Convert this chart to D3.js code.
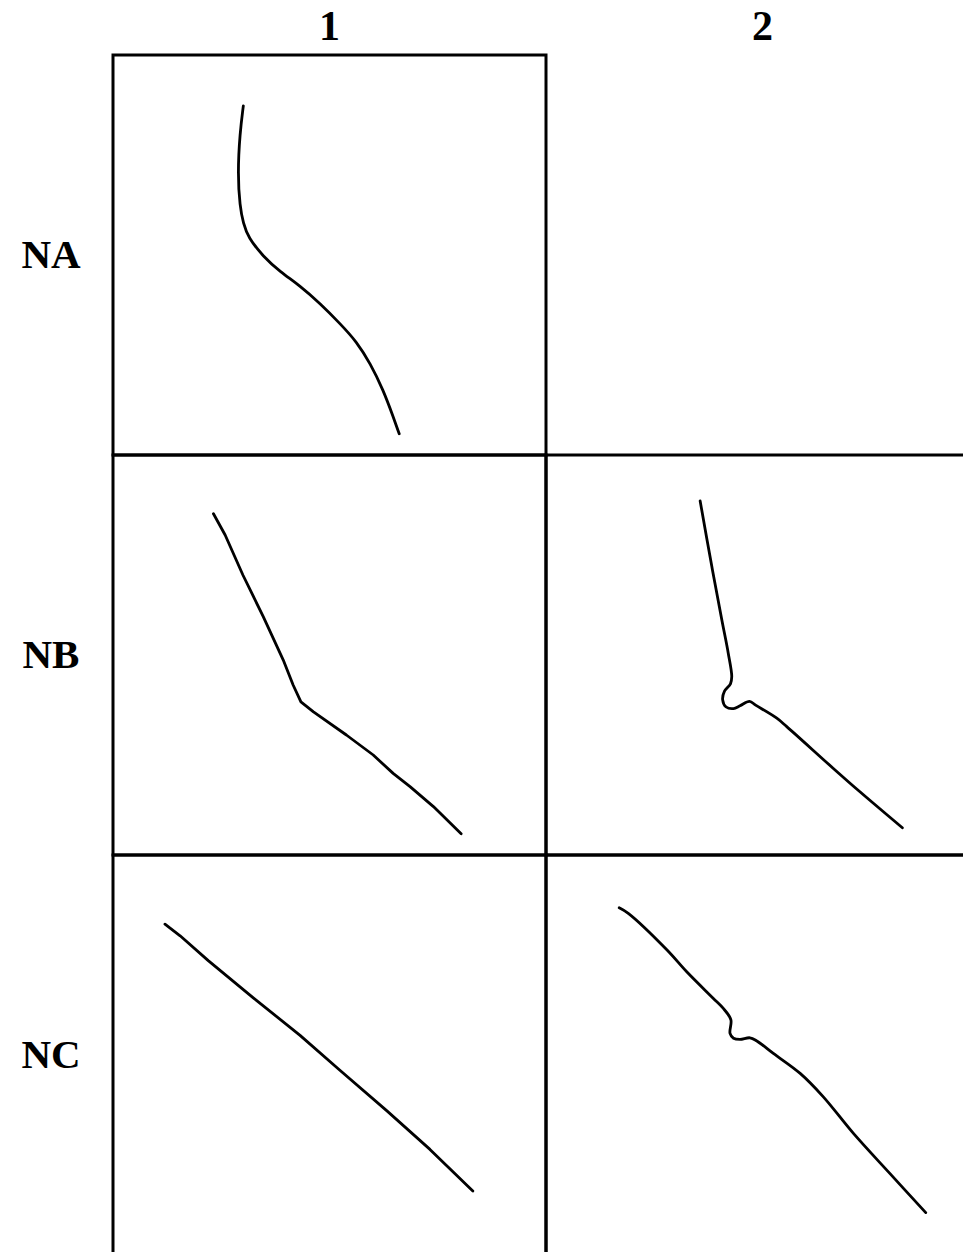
<!DOCTYPE html>
<html>
<head>
<meta charset="utf-8">
<script src="https://cdn.jsdelivr.net/npm/d3@7"></script>
<style>
  body { margin: 0; background: #fff; }
  svg { display: block; }
  .label { font-family: "Liberation Serif", "Times New Roman", serif; font-weight: bold; fill: #000; }
</style>
</head>
<body>
<div id="chart"></div>
<script>
// grid categories
const cols = ["1", "2"];
const rows = ["NA", "NB", "NC"];

// curves per cell, [x, y] in cell units (0-100, y up)
const NA_1 = [[30.1, 87.3], [29.3, 80.4], [28.8, 70.4], [29.3, 62.1], [30.1, 57.9], [31.2, 54.4],
  [34.7, 49.6], [38.6, 45.8], [43.2, 42.3], [47.8, 37.9], [52.4, 32.9], [56.3, 28.3],
  [59.4, 22.9], [62.4, 16.3], [64.7, 9.6], [66.1, 5.3]];
const NB_1 = [[23.2, 85.3], [25.9, 80.0], [30.0, 70.0], [34.7, 59.6], [39.3, 48.8], [41.6, 42.5],
  [43.4, 38.3], [46.3, 35.8], [53.9, 30.0], [60.1, 25.0], [64.7, 20.4], [68.6, 17.1],
  [74.0, 12.1], [80.4, 5.3]];
const NB_2 = [[35.6, 88.5], [38.3, 72.1], [40.6, 58.8], [42.1, 50.4], [42.9, 44.6], [42.6, 42.8],
  [41.2, 40.9], [40.8, 38.8], [41.6, 37.0], [43.3, 36.6], [44.8, 37.3], [47.0, 38.4],
  [48.5, 37.4], [53.3, 34.2], [55.6, 32.1], [66.3, 21.7], [72.5, 15.8], [82.3, 6.8]];
const NC_1 = [[12.0, 82.7], [15.5, 79.8], [22.0, 73.6], [32.4, 64.3], [43.2, 54.9], [52.4, 46.2],
  [63.2, 36.1], [73.2, 26.4], [83.1, 16.0]];
const NC_2 = [[16.9, 86.8], [19.0, 85.4], [27.9, 76.3], [32.5, 70.8], [38.6, 64.2], [40.9, 61.7],
  [42.7, 58.8], [42.5, 55.4], [43.3, 54.2], [44.8, 53.9], [47.1, 54.3], [48.7, 53.5],
  [52.5, 50.4], [58.7, 45.4], [64.0, 39.6], [71.0, 30.4], [79.4, 20.4], [87.7, 10.6]];

const cells = [
  { row: "NA", col: "1", values: NA_1, curve: d3.curveBasis },
  { row: "NB", col: "1", values: NB_1, curve: d3.curveLinear },
  { row: "NB", col: "2", values: NB_2, curve: d3.curveCatmullRom.alpha(0.5) },
  { row: "NC", col: "1", values: NC_1, curve: d3.curveLinear },
  { row: "NC", col: "2", values: NC_2, curve: d3.curveCatmullRom.alpha(0.5) }
];

const width = 963, height = 1252;

const svg = d3.select("#chart").append("svg")
  .attr("width", width)
  .attr("height", height);

const colScale = d3.scaleBand().domain(cols).range([113, 979]);
const rowScale = d3.scaleBand().domain(rows).range([55, 1255]);

const x = d3.scaleLinear().domain([0, 100]).range([0, colScale.bandwidth()]);
const y = d3.scaleLinear().domain([0, 100]).range([rowScale.bandwidth(), 0]);

const cellG = svg.selectAll("g.cell")
  .data(cells)
  .join("g")
  .attr("class", "cell")
  .attr("transform", d => `translate(${colScale(d.col)},${rowScale(d.row)})`);

cellG.append("rect")
  .attr("width", colScale.bandwidth())
  .attr("height", rowScale.bandwidth())
  .attr("fill", "none")
  .attr("stroke", "#000")
  .attr("stroke-width", 3);

cellG.append("path")
  .attr("d", d => d3.line()
    .x(p => x(p[0]))
    .y(p => y(p[1]))
    .curve(d.curve)(d.values))
  .attr("fill", "none")
  .attr("stroke", "#000")
  .attr("stroke-width", 2.8)
  .attr("stroke-linecap", "round")
  .attr("stroke-linejoin", "round");

// column headers
svg.selectAll("text.col-label")
  .data(cols)
  .join("text")
  .attr("class", "label col-label")
  .attr("x", d => colScale(d) + colScale.bandwidth() / 2)
  .attr("y", 40)
  .attr("text-anchor", "middle")
  .attr("font-size", 42)
  .text(d => d);

// row headers
svg.selectAll("text.row-label")
  .data(rows)
  .join("text")
  .attr("class", "label row-label")
  .attr("x", 51)
  .attr("y", d => rowScale(d) + rowScale.bandwidth() / 2 + 13)
  .attr("text-anchor", "middle")
  .attr("font-size", 41)
  .text(d => d);
</script>
</body>
</html>
